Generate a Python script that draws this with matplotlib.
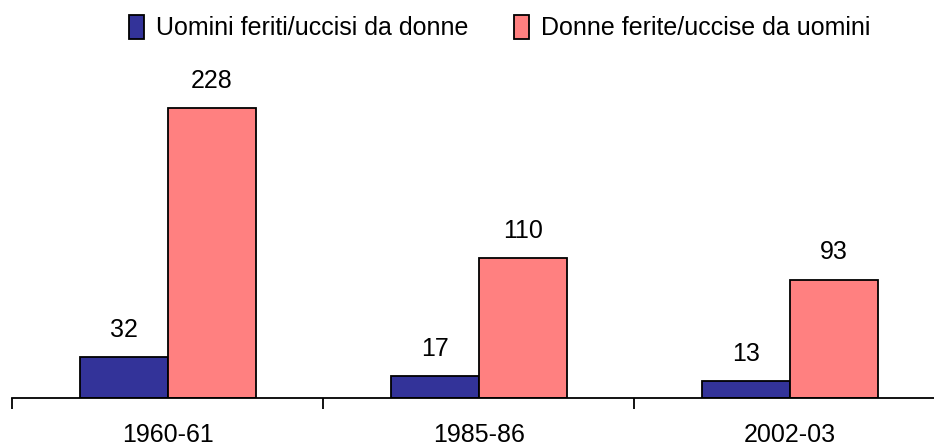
import matplotlib.pyplot as plt
import numpy as np

plt.rcParams['font.family'] = ['Liberation Sans', 'DejaVu Sans']

# Data
periodi = ['1960-61', '1985-86', '2002-03']
uomini = [32, 17, 13]
donne = [228, 110, 93]
serie = ['Uomini feriti/uccisi da donne', 'Donne ferite/uccise da uomini']
colori = ['#333399', '#FF8080']

fig = plt.figure(figsize=(9.34, 4.47), dpi=100)
ax = fig.add_axes([12 / 934, 49 / 447, 933.6 / 934, 318 / 447])

x = np.arange(len(periodi))
w = 0.283
b1 = ax.bar(x - w / 2, uomini, w, color=colori[0], edgecolor='black', linewidth=1.3, label=serie[0])
b2 = ax.bar(x + w / 2, donne, w, color=colori[1], edgecolor='black', linewidth=1.3, label=serie[1])

for bars in (b1, b2):
    for r in bars:
        ax.annotate(str(int(r.get_height())), (r.get_x() + r.get_width() / 2, r.get_height()),
                    xytext=(0, 11), textcoords='offset points', ha='center', va='bottom', fontsize=18)

ax.set_xlim(-0.5, 2.5)
ax.set_ylim(0, 250)
for s in ['top', 'right', 'left']:
    ax.spines[s].set_visible(False)
ax.spines['bottom'].set_linewidth(1.3)
ax.set_yticks([])
ax.set_xticks([-0.5, 0.5, 1.5], minor=False)
ax.set_xticklabels([])
ax.tick_params(axis='x', direction='out', length=8, width=1.3)
ax.set_xticks(x, minor=True)
ax.set_xticklabels(periodi, minor=True, fontsize=18)
ax.tick_params(axis='x', which='minor', length=0, pad=18)

fig.legend(handles=[b1, b2], labels=serie, loc='upper center', bbox_to_anchor=(0.535, 1.017),
           ncol=2, frameon=False, fontsize=18, handlelength=0.6, handleheight=1.1,
           handletextpad=0.5, columnspacing=1.8)

fig.savefig('out.png', dpi=100)
